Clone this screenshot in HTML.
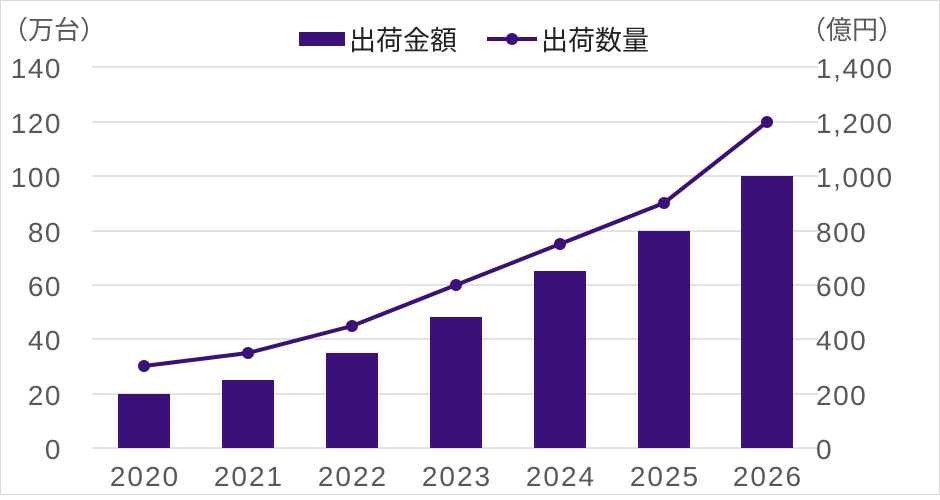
<!DOCTYPE html>
<html><head><meta charset="utf-8"><style>
body{margin:0;background:#fff;}
svg text{font-family:"Liberation Sans","Noto Sans CJK JP",sans-serif;fill:#595959;}
</style></head><body>
<svg width="940" height="495" viewBox="0 0 940 495" xmlns="http://www.w3.org/2000/svg">
<rect x="0.5" y="0.5" width="939" height="494" fill="#fff" stroke="#d9d9d9"/>
<g stroke="#d9d9d9" stroke-width="1.5">
<line x1="92" x2="818" y1="67" y2="67"/><line x1="92" x2="818" y1="122" y2="122"/>
<line x1="92" x2="818" y1="176" y2="176"/><line x1="92" x2="818" y1="231" y2="231"/>
<line x1="92" x2="818" y1="285" y2="285"/><line x1="92" x2="818" y1="339" y2="339"/>
<line x1="92" x2="818" y1="394" y2="394"/><line x1="92" x2="818" y1="448" y2="448"/>
</g>
<g fill="#3b1078">
<rect x="118" y="394" width="52" height="54"/>
<rect x="222" y="380" width="52" height="68"/>
<rect x="326" y="353" width="52" height="95"/>
<rect x="430" y="317" width="52" height="131"/>
<rect x="534" y="271" width="52" height="177"/>
<rect x="638" y="231" width="52" height="217"/>
<rect x="741" y="176" width="52" height="272"/>
</g>
<polyline fill="none" stroke="#3b1078" stroke-width="4" points="144,366 248,353 352,326 456,285 560,244 664,203 767,122"/>
<g fill="#3b1078">
<circle cx="144" cy="366" r="6"/><circle cx="248" cy="353" r="6"/><circle cx="352" cy="326" r="6"/>
<circle cx="456" cy="285" r="6"/><circle cx="560" cy="244" r="6"/><circle cx="664" cy="203" r="6"/><circle cx="767" cy="122" r="6"/>
</g>
<g font-size="28" letter-spacing="1.5" text-anchor="end">
<text x="62" y="78">140</text><text x="62" y="133">120</text><text x="62" y="187">100</text>
<text x="62" y="242">80</text><text x="62" y="296">60</text><text x="62" y="350">40</text>
<text x="62" y="405">20</text><text x="62" y="459">0</text>
</g>
<g font-size="28" letter-spacing="1.5" text-anchor="start">
<text x="816" y="78">1,400</text><text x="816" y="133">1,200</text><text x="816" y="187">1,000</text>
<text x="816" y="242">800</text><text x="816" y="296">600</text><text x="816" y="350">400</text>
<text x="816" y="405">200</text><text x="816" y="459">0</text>
</g>
<g font-size="28" letter-spacing="2" text-anchor="middle">
<text x="145" y="486">2020</text><text x="249" y="486">2021</text><text x="353" y="486">2022</text>
<text x="457" y="486">2023</text><text x="561" y="486">2024</text><text x="665" y="486">2025</text><text x="768" y="486">2026</text>
</g>
<text x="2" y="39" font-size="26">（万台）</text>
<text x="800" y="39" font-size="26">（億円）</text>
<rect x="299" y="32" width="46" height="14" fill="#3b1078"/>
<text x="349" y="50" font-size="27" style="fill:#222">出荷金額</text>
<line x1="487" x2="537" y1="39" y2="39" stroke="#3b1078" stroke-width="4"/>
<circle cx="512" cy="39" r="6" fill="#3b1078"/>
<text x="541" y="50" font-size="27" style="fill:#222">出荷数量</text>
</svg>
</body></html>
